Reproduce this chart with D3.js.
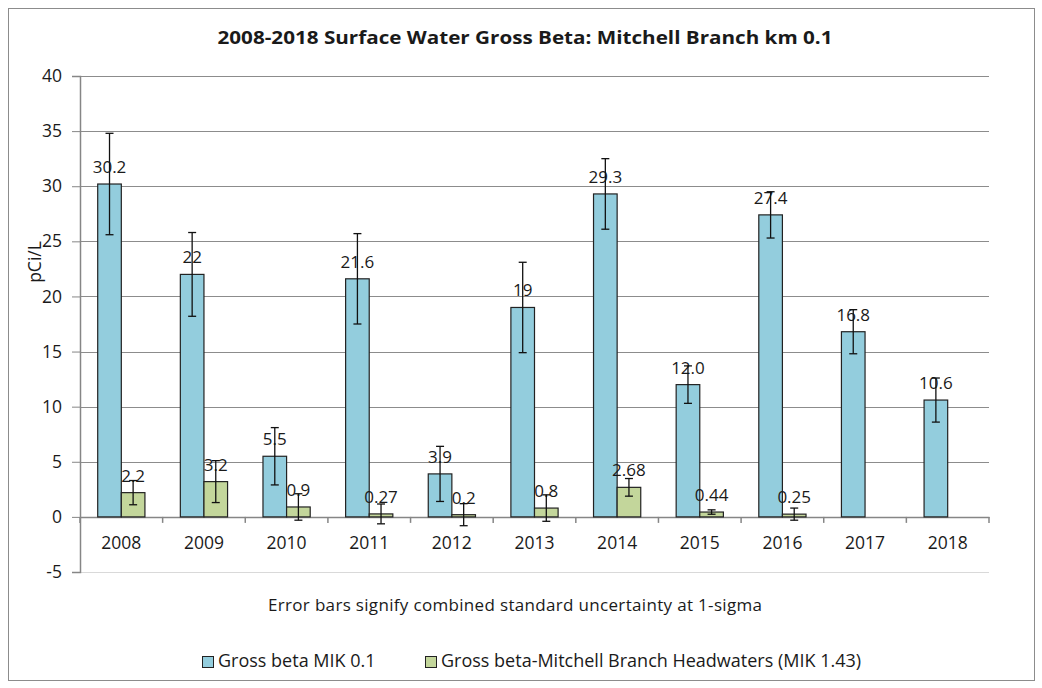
<!DOCTYPE html>
<html lang="en">
<head>
<meta charset="UTF-8">
<title>2008-2018 Surface Water Gross Beta: Mitchell Branch km 0.1</title>
<script src="https://d3js.org/d3.v7.min.js"></script>
<style>
  body { margin: 0; background: #fff; }
  text { font-family: "Open Sans", "Noto Sans", sans-serif; fill: #1a1a1a; }
</style>
</head>
<body>
<div id="chart"></div>
<script>
// Datos
const years = ["2008", "2009", "2010", "2011", "2012", "2013", "2014", "2015", "2016", "2017", "2018"];
const mik01 = [30.2, 22, 5.5, 21.6, 3.9, 19, 29.3, 12.0, 27.4, 16.8, 10.6];
const mik01Labels = ["30.2", "22", "5.5", "21.6", "3.9", "19", "29.3", "12.0", "27.4", "16.8", "10.6"];
const mik01Err = [4.6, 3.8, 2.6, 4.1, 2.5, 4.1, 3.2, 1.7, 2.1, 2.0, 2.0];
const mik143 = [2.2, 3.2, 0.9, 0.27, 0.2, 0.8, 2.68, 0.44, 0.25, null, null];
const mik143Labels = ["2.2", "3.2", "0.9", "0.27", "0.2", "0.8", "2.68", "0.44", "0.25", "", ""];
const mik143Err = [1.1, 1.9, 1.2, 0.9, 1.0, 1.2, 0.8, 0.2, 0.55, null, null];
const seriesNames = ["Gross beta MIK 0.1", "Gross beta-Mitchell Branch Headwaters (MIK 1.43)"];
const seriesColors = ["#93cddd", "#c3d69b"];
const yTicks = [-5, 0, 5, 10, 15, 20, 25, 30, 35, 40];

const W = 1042, H = 688;
const plotLeft = 80, plotRight = 989, plotTop = 76, plotBottom = 572;

const svg = d3.select("#chart").append("svg")
    .attr("width", W)
    .attr("height", H);

// marco exterior
svg.append("rect")
    .attr("x", 8.5).attr("y", 8.5)
    .attr("width", 1026).attr("height", 672)
    .attr("fill", "#fff")
    .attr("stroke", "#8c8c8c");

// escalas
const x0 = d3.scaleBand().domain(years).range([plotLeft, plotRight]).padding(0);
const x1 = d3.scaleBand().domain([0, 1]).range([0, x0.bandwidth()]).paddingInner(0).paddingOuter(0.75);
const y = d3.scaleLinear().domain([-5, 40]).range([plotBottom, plotTop]);

// líneas de la cuadrícula
svg.append("g")
    .selectAll("line")
    .data(yTicks)
    .enter().append("line")
    .attr("x1", plotLeft).attr("x2", plotRight)
    .attr("y1", d => Math.round(y(d)) + 0.5)
    .attr("y2", d => Math.round(y(d)) + 0.5)
    .attr("stroke", d => d === -5 ? "#d9d9d9" : "#8c8c8c")
    .attr("stroke-width", 1);

// eje Y
const yAxis = svg.append("g")
    .attr("transform", `translate(${plotLeft},0)`)
    .call(d3.axisLeft(y).tickValues(yTicks).tickFormat(d => String(d)).tickSize(8).tickPadding(10));
yAxis.select(".domain").attr("stroke", "#868686").attr("stroke-width", 1.5);
yAxis.selectAll(".tick line").attr("stroke", "#868686");
yAxis.selectAll(".tick text")
    .attr("font-size", 17.5)
    .attr("fill", "#1a1a1a")
    .style("font-family", '"Open Sans", sans-serif');

// eje X en cero
const xAxis = svg.append("g")
    .attr("transform", `translate(0,${y(0)})`)
    .call(d3.axisBottom(x0).tickSize(0).tickPadding(20));
xAxis.select(".domain").attr("stroke", "#868686").attr("stroke-width", 1.5);
xAxis.selectAll(".tick text")
    .attr("font-size", 17.5)
    .attr("fill", "#1a1a1a")
    .style("font-family", '"Open Sans", sans-serif');

// marcas del eje X entre categorías
svg.append("g")
    .selectAll("line")
    .data(years.concat(["end"]))
    .enter().append("line")
    .attr("x1", (d, i) => plotLeft + i * x0.step())
    .attr("x2", (d, i) => plotLeft + i * x0.step())
    .attr("y1", y(0))
    .attr("y2", y(0) + 6)
    .attr("stroke", "#868686")
    .attr("stroke-width", 1.5);

// barras
const series = [
    {vals: mik01, err: mik01Err, labels: mik01Labels},
    {vals: mik143, err: mik143Err, labels: mik143Labels}
];

series.forEach((s, si) => {
    const rows = years.map((yr, i) => ({yr, v: s.vals[i], e: s.err[i], lab: s.labels[i]}))
        .filter(d => d.v !== null);
    const cx = d => x0(d.yr) + x1(si) + x1.bandwidth() / 2;
    const g = svg.append("g");

    g.selectAll("rect")
        .data(rows)
        .enter().append("rect")
        .attr("x", d => x0(d.yr) + x1(si))
        .attr("y", d => y(d.v))
        .attr("width", x1.bandwidth())
        .attr("height", d => y(0) - y(d.v))
        .attr("fill", seriesColors[si])
        .attr("stroke", "#222")
        .attr("stroke-width", 1.2);

    // etiquetas de datos
    g.selectAll("text.lab")
        .data(rows)
        .enter().append("text")
        .attr("class", "lab")
        .attr("x", cx)
        .attr("y", d => y(d.v) - 11)
        .attr("text-anchor", "middle")
        .attr("font-size", 17)
        .text(d => d.lab);

    // barras de error
    const eb = g.selectAll("g.err")
        .data(rows.filter(d => d.e !== null))
        .enter().append("g")
        .attr("class", "err")
        .attr("stroke", "#111")
        .attr("stroke-width", 1.3);
    eb.append("line")
        .attr("x1", cx).attr("x2", cx)
        .attr("y1", d => y(d.v + d.e)).attr("y2", d => y(d.v - d.e));
    eb.append("line")
        .attr("x1", d => cx(d) - 4).attr("x2", d => cx(d) + 4)
        .attr("y1", d => y(d.v + d.e)).attr("y2", d => y(d.v + d.e));
    eb.append("line")
        .attr("x1", d => cx(d) - 4).attr("x2", d => cx(d) + 4)
        .attr("y1", d => y(d.v - d.e)).attr("y2", d => y(d.v - d.e));
});

// título
svg.append("text")
    .attr("x", 525)
    .attr("y", 44)
    .attr("text-anchor", "middle")
    .attr("font-size", 18)
    .attr("font-weight", "bold")
    .attr("textLength", 615)
    .attr("lengthAdjust", "spacingAndGlyphs")
    .text("2008-2018  Surface Water Gross Beta: Mitchell Branch km 0.1");

// título del eje Y
svg.append("text")
    .attr("transform", "translate(41,262) rotate(-90)")
    .attr("text-anchor", "middle")
    .attr("font-size", 17.5)
    .text("pCi/L");

// nota
svg.append("text")
    .attr("x", 268)
    .attr("y", 611)
    .attr("font-size", 17)
    .attr("textLength", 494)
    .attr("lengthAdjust", "spacing")
    .text("Error bars signify combined standard uncertainty at 1-sigma");

// leyenda
const legendX = [202, 425];
const legend = svg.append("g");
seriesNames.forEach((name, i) => {
    legend.append("rect")
        .attr("x", legendX[i] + 0.5).attr("y", 656.5)
        .attr("width", 11).attr("height", 11)
        .attr("fill", seriesColors[i])
        .attr("stroke", "#222");
    legend.append("text")
        .attr("x", legendX[i] + 16)
        .attr("y", 667)
        .attr("font-size", 18)
        .text(name);
});
</script>
</body>
</html>
